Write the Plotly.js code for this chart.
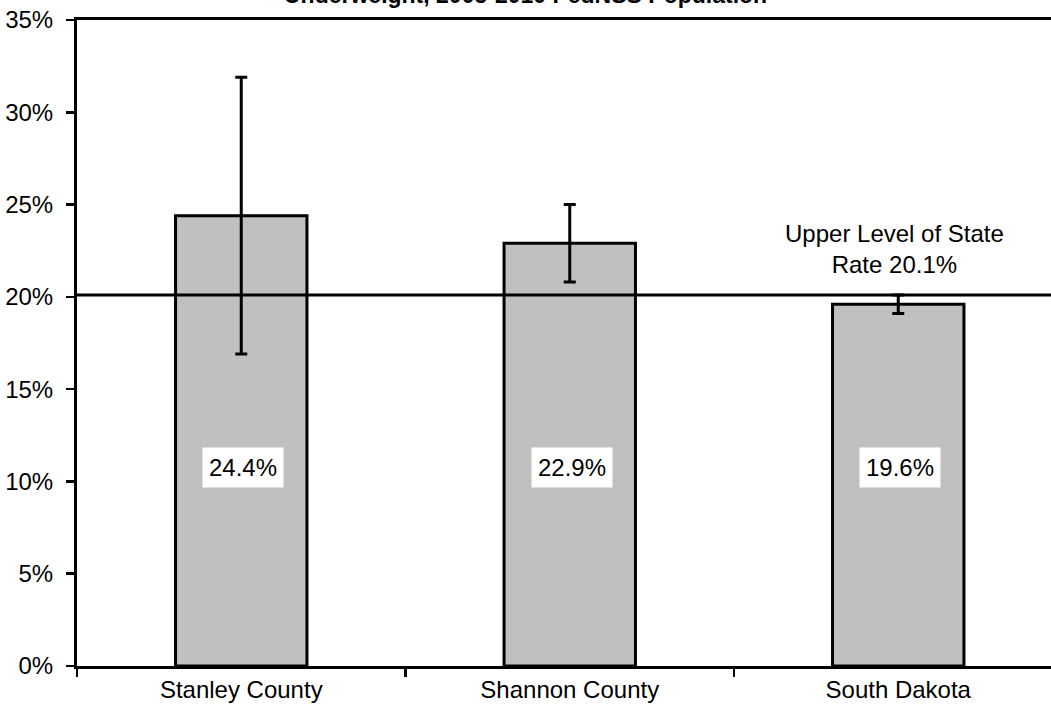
<!DOCTYPE html>
<html>
<head>
<meta charset="utf-8">
<script src="https://cdn.plot.ly/plotly-3.0.1.min.js"></script>
<style>html,body{margin:0;padding:0;background:#fff;}#chart{width:1051px;height:713px;}</style>
</head>
<body>
<div id="chart"></div>
<script>
var categories = ["Stanley County", "Shannon County", "South Dakota"];
var values = [24.4, 22.9, 19.6];
var ciUpper = [31.9, 25.0, 20.1];
var ciLower = [16.9, 20.8, 19.1];
var stateUpper = 20.1;
var titleText = "Underweight, 2005-2010 PedNSS Population";
var refLabel = "Upper Level of State<br>Rate " + stateUpper.toFixed(1) + "%";

var FONT = "Arial, 'Liberation Sans', sans-serif";

var trace = {
  type: "bar",
  x: categories,
  y: values,
  width: 0.4,
  marker: {color: "#c0c0c0", line: {color: "#000", width: 3}},
  error_y: {
    type: "data",
    symmetric: false,
    array: values.map(function(v, i){ return +(ciUpper[i] - v).toFixed(2); }),
    arrayminus: values.map(function(v, i){ return +(v - ciLower[i]).toFixed(2); }),
    color: "#000",
    thickness: 3,
    width: 6
  },
  hoverinfo: "none"
};

var annotations = values.map(function(v, i){
  return {
    x: categories[i], y: 10.78, xref: "x", yref: "y",
    text: v.toFixed(1) + "%",
    showarrow: false,
    bgcolor: "#fff",
    borderpad: 6,
    xshift: 2,
    font: {family: FONT, size: 24, color: "#000"}
  };
});
annotations.push({
  x: categories[2], y: stateUpper, xref: "x", yref: "y",
  xanchor: "center", yanchor: "bottom", yshift: 15, xshift: -4,
  text: refLabel, showarrow: false,
  font: {family: FONT, size: 24, color: "#000"}
});
annotations.push({
  x: 0.46, y: 1, xref: "paper", yref: "paper",
  xanchor: "center", yanchor: "bottom", yshift: 10,
  text: "<b>" + titleText + "</b>", showarrow: false,
  font: {family: FONT, size: 23, color: "#000"}
});

var layout = {
  width: 1051, height: 713,
  margin: {l: 77, r: 0, t: 20, b: 47, pad: 0},
  paper_bgcolor: "#fff", plot_bgcolor: "#fff",
  showlegend: false,
  font: {family: FONT, size: 24, color: "#000"},
  xaxis: {
    type: "category",
    range: [-0.5, 2.465],
    showline: true, linecolor: "#000", linewidth: 3, mirror: true,
    ticks: "outside", tickson: "boundaries", ticklen: 8, tickwidth: 2.5, tickcolor: "#000",
    showgrid: false, zeroline: false,
    tickfont: {family: FONT, size: 24, color: "#000"}
  },
  yaxis: {
    range: [0, 35], dtick: 5, tick0: 0,
    ticksuffix: "%",
    showline: true, linecolor: "#000", linewidth: 3,
    ticks: "outside", ticklen: 8, tickwidth: 2.5, tickcolor: "#000",
    showgrid: false, zeroline: false,
    ticklabelstandoff: 8,
    tickfont: {family: FONT, size: 24, color: "#000"}
  },
  shapes: [{
    type: "line", xref: "paper", yref: "y",
    x0: 0, x1: 1, y0: stateUpper, y1: stateUpper,
    line: {color: "#000", width: 3}
  }],
  annotations: annotations
};

Plotly.newPlot("chart", [trace], layout, {displayModeBar: false, staticPlot: true});
</script>
</body>
</html>
